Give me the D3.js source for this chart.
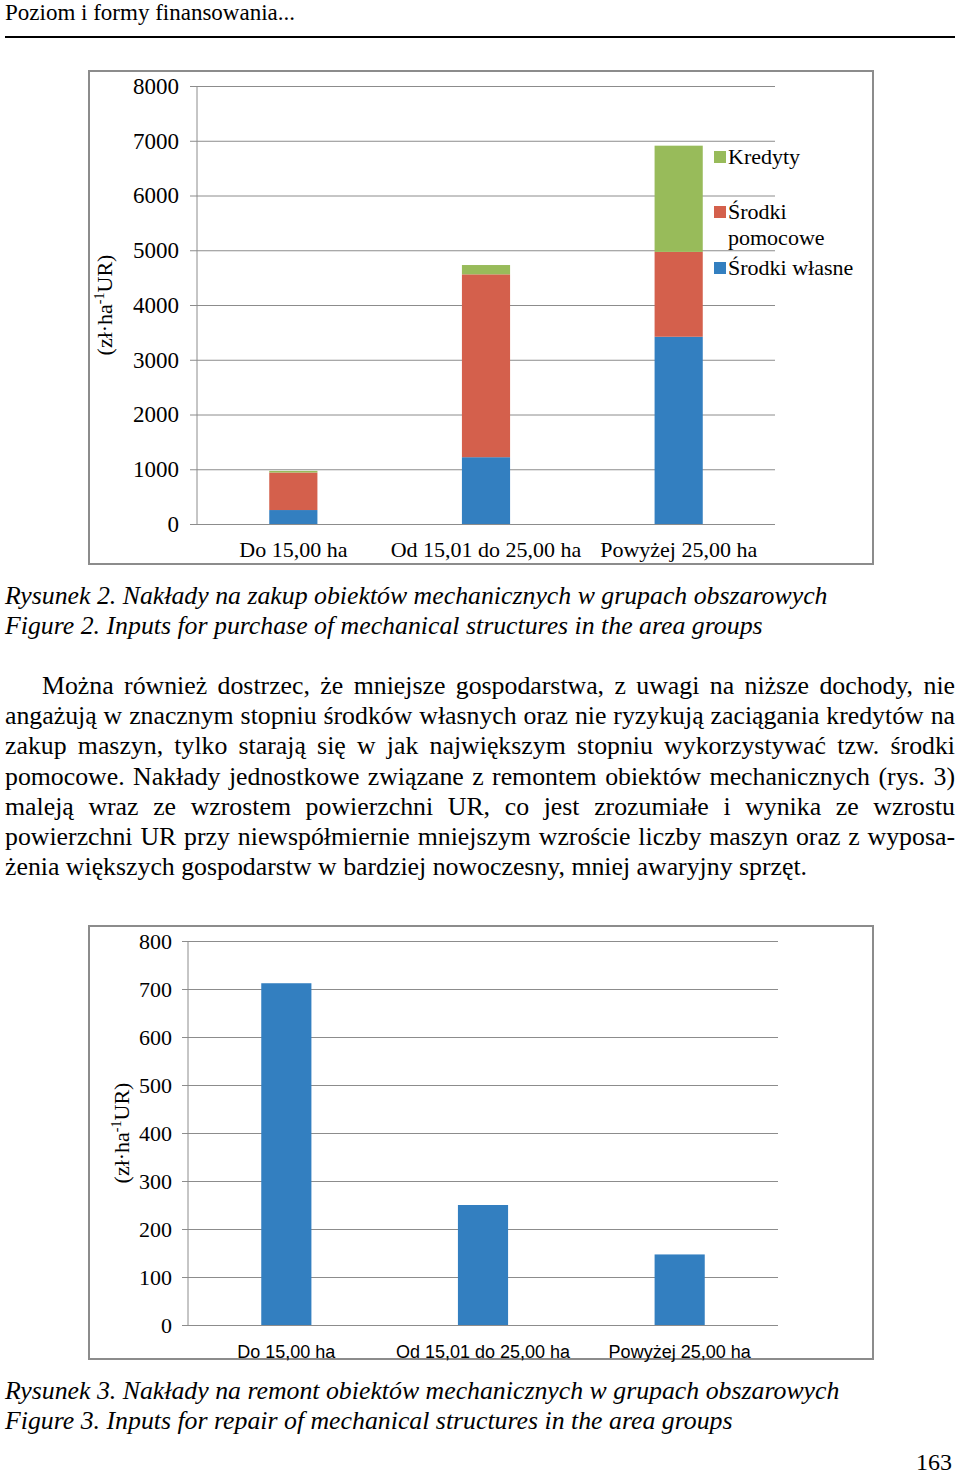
<!DOCTYPE html>
<html><head><meta charset="utf-8">
<script src="https://cdn.jsdelivr.net/npm/d3@7"></script>
<style>
html,body{margin:0;padding:0;background:#fff;}
svg text{font-family:"Liberation Serif","Times New Roman",serif;fill:#000;}
</style></head>
<body>
<svg id="page" width="960" height="1475"></svg>
<script>
// ---------- data ----------
const categories = ["Do 15,00 ha", "Od 15,01 do 25,00 ha", "Powyżej 25,00 ha"];
const seriesNames = ["Środki własne", "Środki pomocowe", "Kredyty"];
const ownFunds = [255, 1220, 3420];
const aidFunds = [685, 3340, 1550];
const credits = [30, 170, 1940];
const topTicks = [0, 1000, 2000, 3000, 4000, 5000, 6000, 7000, 8000];
const repairValues = [712, 250, 147];
const bottomTicks = [0, 100, 200, 300, 400, 500, 600, 700, 800];
const colors = ["#337fc0", "#d4604c", "#98bb5a"];

const headerText = "Poziom i formy finansowania...";
const caption2 = ["Rysunek 2. Nakłady na zakup obiektów mechanicznych w grupach obszarowych",
                  "Figure 2. Inputs for purchase of mechanical structures in the area groups"];
const caption3 = ["Rysunek 3. Nakłady na remont obiektów mechanicznych w grupach obszarowych",
                  "Figure 3. Inputs for repair of mechanical structures in the area groups"];
const paragraph = [
  "Można również dostrzec, że mniejsze gospodarstwa, z uwagi na niższe dochody, nie",
  "angażują w znacznym stopniu środków własnych oraz nie ryzykują zaciągania kredytów na",
  "zakup maszyn, tylko starają się w jak największym stopniu wykorzystywać tzw. środki",
  "pomocowe. Nakłady jednostkowe związane z remontem obiektów mechanicznych (rys. 3)",
  "maleją wraz ze wzrostem powierzchni UR, co jest zrozumiałe i wynika ze wzrostu",
  "powierzchni UR przy niewspółmiernie mniejszym wzroście liczby maszyn oraz z wyposa-",
  "żenia większych gospodarstw w bardziej nowoczesny, mniej awaryjny sprzęt."
];
const pageNumber = "163";

const svg = d3.select("#page");

// ---------- header ----------
svg.append("text").attr("x", 5).attr("y", 20).style("font-size", "23px").text(headerText);
svg.append("line").attr("x1", 5).attr("x2", 955).attr("y1", 37).attr("y2", 37)
  .attr("stroke", "#000").attr("stroke-width", 2);

// ---------- helpers ----------
function yTitle(g, x, y) {
  const t = g.append("text").attr("transform", `translate(${x},${y}) rotate(-90)`)
    .attr("text-anchor", "middle").style("font-size", "22px");
  t.append("tspan").text("(zł·ha");
  t.append("tspan").attr("dy", -8).style("font-size", "14px").text("-1");
  t.append("tspan").attr("dy", 8).text("UR)");
}

function frame(x0, y0, x1, y1) {
  svg.append("rect").attr("x", x0).attr("y", y0).attr("width", x1 - x0).attr("height", y1 - y0)
    .attr("fill", "#fff").attr("stroke", "#8c8c8c").attr("stroke-width", 2);
}

// ---------- chart 1 (stacked) ----------
frame(89, 71, 873, 564);
{
  const left = 197, right = 775, top = 86, bottom = 524;
  const x = d3.scaleBand().domain(categories).range([left, right]).paddingInner(0.75).paddingOuter(0.375);
  const y = d3.scaleLinear().domain([0, 8000]).range([bottom, top]);
  const g = svg.append("g");
  const yAxis = d3.axisLeft(y).tickValues(topTicks).tickFormat(d3.format("d")).tickSize(-(right - left)).tickPadding(18);
  const ga = g.append("g").attr("transform", `translate(${left},0)`).call(yAxis);
  ga.select(".domain").remove();
  ga.selectAll(".tick line").attr("stroke", "#8c8c8c").attr("x1", -7);
  ga.selectAll(".tick text").style("font-size", "23px").style("font-family", "Liberation Serif").attr("fill", "#000");
  g.append("line").attr("x1", left).attr("x2", left).attr("y1", top).attr("y2", bottom).attr("stroke", "#8c8c8c");

  const rows = categories.map((c, i) => ({cat: c, own: ownFunds[i], aid: aidFunds[i], cred: credits[i]}));
  const stack = d3.stack().keys(["own", "aid", "cred"])(rows);
  g.selectAll(".layer").data(stack).join("g").attr("fill", (d, i) => colors[i])
    .selectAll("rect").data(d => d).join("rect")
    .attr("x", d => x(d.data.cat)).attr("width", x.bandwidth())
    .attr("y", d => y(d[1])).attr("height", d => y(d[0]) - y(d[1]));

  g.selectAll(".xl").data(categories).join("text")
    .attr("x", d => x(d) + x.bandwidth() / 2).attr("y", 557)
    .attr("text-anchor", "middle").style("font-size", "22px").text(d => d);

  yTitle(g, 112, 305);

  // legend
  const legend = [
    {name: "Kredyty", lines: ["Kredyty"], color: colors[2], y: 151},
    {name: "Środki pomocowe", lines: ["Środki", "pomocowe"], color: colors[1], y: 206},
    {name: "Środki własne", lines: ["Środki własne"], color: colors[0], y: 262}
  ];
  const lg = g.append("g");
  legend.forEach(l => {
    lg.append("rect").attr("x", 714).attr("y", l.y).attr("width", 12).attr("height", 12).attr("fill", l.color);
    l.lines.forEach((t, k) => {
      lg.append("text").attr("x", 728).attr("y", l.y + 13 + k * 26).style("font-size", "22px").text(t);
    });
  });
}

// ---------- chart 2 (single series) ----------
frame(89, 926, 873, 1359);
{
  const left = 188, right = 778, top = 941, bottom = 1325;
  const x = d3.scaleBand().domain(categories).range([left, right]).paddingInner(0.745).paddingOuter(0.3725);
  const y = d3.scaleLinear().domain([0, 800]).range([bottom, top]);
  const g = svg.append("g");
  const yAxis = d3.axisLeft(y).tickValues(bottomTicks).tickFormat(d3.format("d")).tickSize(-(right - left)).tickPadding(16);
  const ga = g.append("g").attr("transform", `translate(${left},0)`).call(yAxis);
  ga.select(".domain").remove();
  ga.selectAll(".tick line").attr("stroke", "#8c8c8c").attr("x1", -6);
  ga.selectAll(".tick text").style("font-size", "22px").style("font-family", "Liberation Serif").attr("fill", "#000");
  g.append("line").attr("x1", left).attr("x2", left).attr("y1", top).attr("y2", bottom).attr("stroke", "#8c8c8c");

  g.selectAll(".bar").data(repairValues).join("rect")
    .attr("x", (d, i) => x(categories[i])).attr("width", x.bandwidth())
    .attr("y", d => y(d)).attr("height", d => bottom - y(d)).attr("fill", colors[0]);

  g.selectAll(".xl").data(categories).join("text")
    .attr("x", d => x(d) + x.bandwidth() / 2).attr("y", 1358)
    .attr("text-anchor", "middle").style("font-size", "18px")
    .style("font-family", "'Liberation Sans Narrow','Liberation Sans',sans-serif")
    .attr("fill", "#333").text(d => d);

  yTitle(g, 129, 1133);
}

// ---------- captions ----------
function caption(lines, y0) {
  lines.forEach((t, i) => {
    svg.append("text").attr("x", 5).attr("y", y0 + i * 30).style("font-size", "25.8px")
      .style("font-style", "italic").text(t);
  });
}
caption(caption2, 604);
caption(caption3, 1399);

// ---------- justified paragraph ----------
paragraph.forEach((line, i) => {
  const y = 694 + i * 30.2;
  const x0 = i === 0 ? 42 : 5, x1 = 955;
  const t = svg.append("text").attr("y", y).style("font-size", "25.8px");
  const last = i === paragraph.length - 1;
  if (last) { t.attr("x", x0).text(line); return; }
  const words = line.split(" ");
  const spans = words.map(w => t.append("tspan").text(w));
  const widths = spans.map(s => s.node().getComputedTextLength());
  const total = d3.sum(widths);
  const gap = (x1 - x0 - total) / (words.length - 1);
  let cx = x0;
  spans.forEach((s, k) => { s.attr("x", cx); cx += widths[k] + gap; });
});

svg.append("text").attr("x", 952).attr("y", 1470).attr("text-anchor", "end").style("font-size", "24px").text(pageNumber);
</script>
</body></html>
